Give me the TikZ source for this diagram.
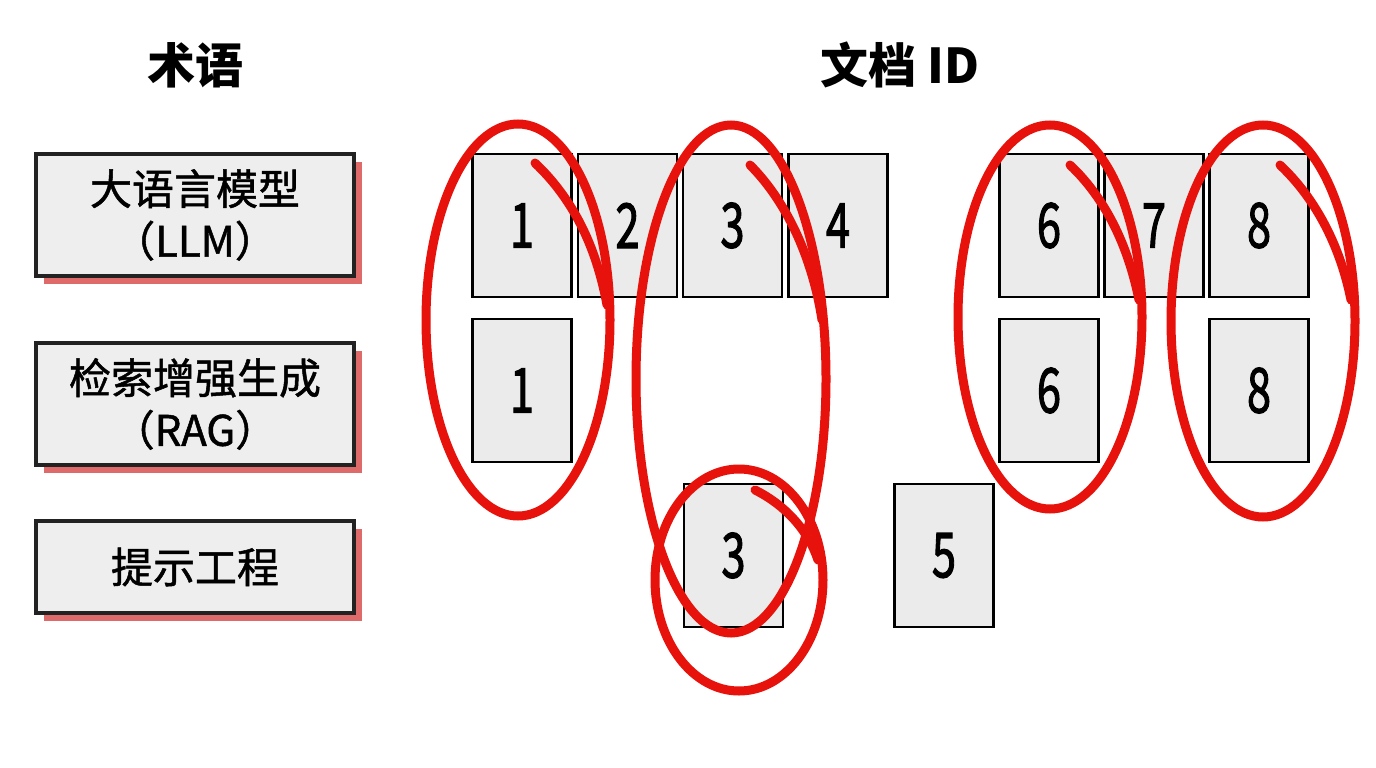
\documentclass[tikz,border=0pt]{standalone}
\usepackage{fontspec}
\newfontfamily\cjk{Noto Sans CJK SC}
\newfontfamily\cjkmed[FakeBold=1.2]{Noto Sans CJK SC}
\newfontfamily\cjkdig[FakeBold=2]{Noto Sans CJK SC}
\usetikzlibrary{shadows}
\definecolor{termline}{HTML}{222222}
\definecolor{termfill}{HTML}{EEEEEE}
\definecolor{shadowred}{HTML}{DE6A6A}
\definecolor{docfill}{HTML}{EBEBEB}
\definecolor{redpen}{RGB}{232,18,12}
\tikzset{
  termbox/.style={draw=termline, line width=4.5pt, fill=termfill, minimum width=318pt,
    inner sep=0pt, align=center, font=\cjkmed\fontsize{42}{52}\selectfont,
    drop shadow={shadow xshift=8pt, shadow yshift=-8pt, fill=shadowred, opacity=1}},
  docbox/.style={draw=black, line width=2.5pt, fill=docfill, minimum width=99pt,
    minimum height=143pt, inner sep=0pt, font=\cjkdig\fontsize{62}{62}\selectfont},
  heading/.style={font=\cjk\bfseries\fontsize{48}{48}\selectfont},
  redring/.style={draw=redpen, line width=9pt},
  redtail/.style={draw=redpen, line width=9pt, line cap=round}
}
\newcommand{\dg}[1]{\scalebox{0.7}[1]{#1}}
\begin{document}
\begin{tikzpicture}[x=1pt,y=-1pt]
\useasboundingbox[fill=white] (0,0) rectangle (1376,768);

% headings
\node[heading] (hterm) at (195,65) {术语};
\node[heading] (hdoc) at (900,65) {文档 ID};

% term boxes
\node[termbox, minimum height=122pt] (t1) at (195,215) {大语言模型\\（LLM）};
\node[termbox, minimum height=122pt] (t2) at (195,404) {检索增强生成\\（RAG）};
\node[termbox, minimum height=92pt] (t3) at (195,567) {提示工程};

% document boxes row 1
\node[docbox] (d1a) at (522,225.5) {\dg{1}};
\node[docbox] (d2)  at (627.5,225.5) {\dg{2}};
\node[docbox] (d3a) at (732.5,225.5) {\dg{3}};
\node[docbox] (d4)  at (838,225.5) {\dg{4}};
\node[docbox] (d6a) at (1049,225.5) {\dg{6}};
\node[docbox] (d7)  at (1154,225.5) {\dg{7}};
\node[docbox] (d8a) at (1259,225.5) {\dg{8}};
% row 2
\node[docbox] (d1b) at (522,390.5) {\dg{1}};
\node[docbox] (d6b) at (1049,390.5) {\dg{6}};
\node[docbox] (d8b) at (1259,390.5) {\dg{8}};
% row 3
\node[docbox] (d3b) at (733.5,555.5) {\dg{3}};
\node[docbox] (d5)  at (944,555.5) {\dg{5}};

% red rings
\draw[redring] (518,320) ellipse [x radius=92, y radius=196];
\draw[redtail] (535,163) .. controls (572,198) and (596,245) .. (607,305);

\draw[redring] (731,379) ellipse [x radius=95, y radius=254];
\draw[redtail] (750,165) .. controls (785,200) and (812,255) .. (822,320);

\draw[redring] (739,580) ellipse [x radius=84, y radius=111];
\draw[redtail] (755,490) .. controls (785,505) and (808,530) .. (818,560);

\draw[redring] (1050,317) ellipse [x radius=92, y radius=192];
\draw[redtail] (1070,165) .. controls (1105,198) and (1128,245) .. (1139,300);

\draw[redring] (1263,321) ellipse [x radius=92, y radius=196];
\draw[redtail] (1280,165) .. controls (1315,198) and (1340,245) .. (1351,300);
\end{tikzpicture}
\end{document}
